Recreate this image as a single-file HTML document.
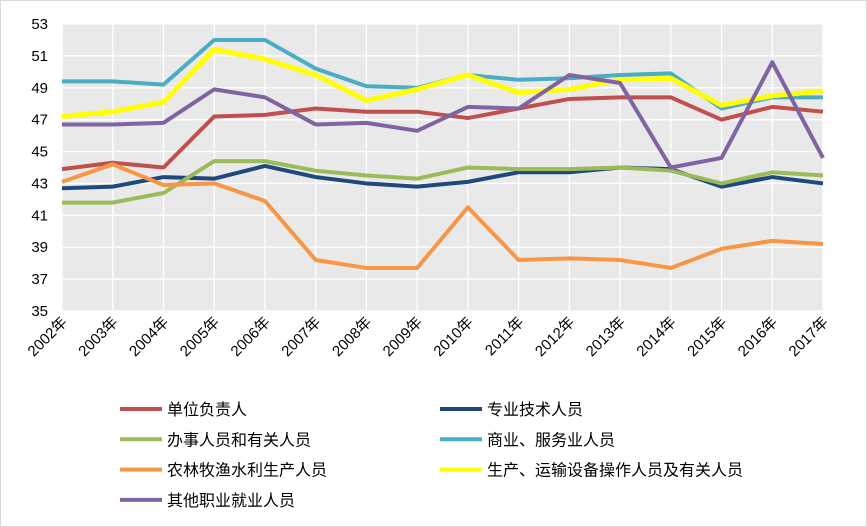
<!DOCTYPE html>
<html><head><meta charset="utf-8">
<style>
body{margin:0;background:#fff;}
svg{display:block;font-family:"Liberation Sans","Noto Sans CJK SC",sans-serif;}
</style></head>
<body>
<svg id="chart" width="867" height="527">
<rect x="0.5" y="0.5" width="866" height="526" fill="#fff" stroke="#d9d9d9"/>
<rect x="62" y="24" width="761" height="287" fill="#e9e9e9"/>
<g id="grid"></g><g id="yticks"></g><g id="xticks"></g><g id="series"></g><g id="legend"></g>
</svg>
<script>
const categories=["2002年","2003年","2004年","2005年","2006年","2007年","2008年","2009年","2010年","2011年","2012年","2013年","2014年","2015年","2016年","2017年"];
const yTicks=[35,37,39,41,43,45,47,49,51,53];
const seriesNames=["单位负责人","专业技术人员","办事人员和有关人员","商业、服务业人员","农林牧渔水利生产人员","生产、运输设备操作人员及有关人员","其他职业就业人员"];
const seriesColors=["#c0504d","#1f497d","#9bbb59","#4bacc6","#f79646","#ffff00","#8064a2"];
const s1=[43.9,44.3,44.0,47.2,47.3,47.7,47.5,47.5,47.1,47.7,48.3,48.4,48.4,47.0,47.8,47.5];
const s2=[42.7,42.8,43.4,43.3,44.1,43.4,43.0,42.8,43.1,43.7,43.7,44.0,43.9,42.8,43.4,43.0];
const s3=[41.8,41.8,42.4,44.4,44.4,43.8,43.5,43.3,44.0,43.9,43.9,44.0,43.8,43.0,43.7,43.5];
const s4=[49.4,49.4,49.2,52.0,52.0,50.2,49.1,49.0,49.8,49.5,49.6,49.8,49.9,47.7,48.4,48.4];
const s5=[43.1,44.2,42.9,43.0,41.9,38.2,37.7,37.7,41.5,38.2,38.3,38.2,37.7,38.9,39.4,39.2];
const s6=[47.2,47.5,48.1,51.4,50.8,49.8,48.2,48.9,49.8,48.7,48.9,49.5,49.6,47.9,48.5,48.8];
const s7=[46.7,46.7,46.8,48.9,48.4,46.7,46.8,46.3,47.8,47.7,49.8,49.3,44.0,44.6,50.6,44.6];
const allSeries=[s1,s2,s3,s4,s5,s6,s7];

const NS="http://www.w3.org/2000/svg";
const L=62,R=823,T=24,B=311,yMin=35,yMax=53;
const x=i=>L+i*(R-L)/(categories.length-1);
const y=v=>B-(v-yMin)/(yMax-yMin)*(B-T);
function mk(tag,attrs,parent){const e=document.createElementNS(NS,tag);for(const k in attrs)e.setAttribute(k,attrs[k]);parent.appendChild(e);return e;}
const grid=document.getElementById('grid'),yt=document.getElementById('yticks'),xt=document.getElementById('xticks'),ser=document.getElementById('series'),leg=document.getElementById('legend');
yTicks.forEach(t=>{
 const g=mk('line',{x1:L,x2:R,y1:y(t),y2:y(t),stroke:'#fff','stroke-width':1.3},grid);
 
 
 const tx=mk('text',{x:48,y:y(t)+5,'text-anchor':'end','font-size':15,fill:'#000'},yt);
 tx.textContent=t;
 
 
});
categories.forEach((c,i)=>{
 const g=mk('line',{x1:x(i),x2:x(i),y1:T,y2:B,stroke:'#fff','stroke-width':1.3},grid);
 
 
 const tx=mk('text',{x:0,y:0,'text-anchor':'end','font-size':15,fill:'#000',transform:`translate(${x(i)+6},${B+12}) rotate(-45)`},xt);
 tx.textContent=c;
 
 
});
allSeries.forEach((s,k)=>{
 const p=mk('polyline',{points:s.map((v,i)=>x(i)+','+y(v)).join(' '),fill:'none',stroke:seriesColors[k],'stroke-width':k===5?5:4,'stroke-linejoin':'round'},ser);
 
 
 const col=k%2,row=Math.floor(k/2);
 const lx=col===0?120:440,ly=409+row*30.3;
 const ll=mk('line',{x1:lx,x2:lx+42,y1:ly,y2:ly,stroke:seriesColors[k],'stroke-width':4},leg);
 
 
 const lt=mk('text',{x:lx+47,y:ly+6,'font-size':16,fill:'#000'},leg);
 lt.textContent=seriesNames[k];
 
 
});
</script>
</body></html>
